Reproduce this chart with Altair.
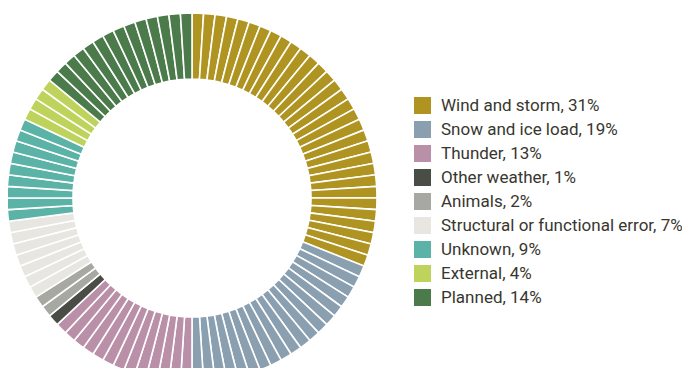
import altair as alt
import pandas as pd

categories = ["Wind and storm", "Snow and ice load", "Thunder", "Other weather",
              "Animals", "Structural or functional error", "Unknown", "External", "Planned"]
percents = [31, 19, 13, 1, 2, 7, 9, 4, 14]
colors = ["#AF9422", "#8A9FB0", "#BA8FA8", "#4A4D46", "#A7A8A2",
          "#E7E6E1", "#5BB2A6", "#BED35B", "#4B7A4B"]

labels = [f"{c}, {p}%" for c, p in zip(categories, percents)]

rows = []
idx = 0
for lab, p in zip(labels, percents):
    for _ in range(p):
        rows.append({"label": lab, "value": 1, "idx": idx})
        idx += 1
df = pd.DataFrame(rows)

chart = alt.Chart(df).mark_arc(
    outerRadius=185, innerRadius=119, stroke="white", strokeWidth=1.6
).encode(
    theta=alt.Theta("value:Q", stack=True),
    order=alt.Order("idx:Q"),
    x=alt.value(184),
    y=alt.value(190),
    color=alt.Color(
        "label:N",
        scale=alt.Scale(domain=labels, range=colors),
        sort=labels,
        legend=alt.Legend(
            title=None,
            orient="none",
            legendX=406,
            legendY=89,
            symbolType="square",
            symbolSize=289,
            symbolStrokeWidth=0,
            labelFont="Roboto",
            labelFontSize=17,
            labelColor="#38372f",
            labelOffset=10,
            rowPadding=6,
            labelLimit=400,
        ),
    ),
).properties(
    width=674, height=360, autosize="none", padding=0
).configure_view(stroke=None)

chart.save("out.html", embed_options={"renderer": "svg", "actions": False})
